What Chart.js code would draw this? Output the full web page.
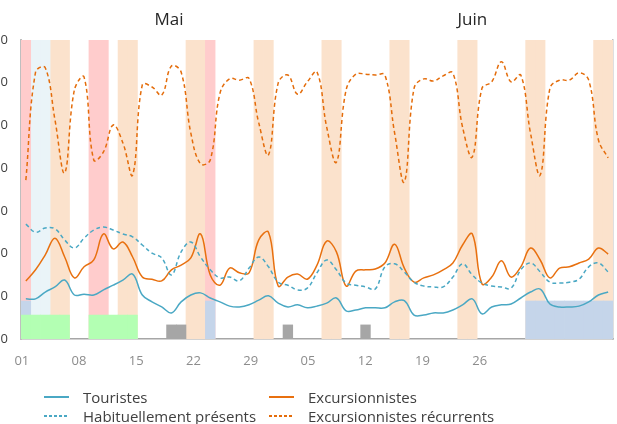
<!DOCTYPE html>
<html>
<head>
<meta charset="utf-8">
<script src="https://cdn.jsdelivr.net/npm/chart.js@4.4.1/dist/chart.umd.min.js"></script>
<style>
  html, body { margin: 0; padding: 0; background: #fff; overflow: hidden; }
  #wrap { position: relative; width: 617px; height: 424px; }
  #chartBox { position: absolute; left: 0; top: 0; width: 617px; height: 380px; }
  #legend { position: absolute; left: 0; top: 0; width: 617px; height: 424px; pointer-events: none;
            font-family: "Open Sans", "Noto Sans", sans-serif; font-size: 15px; color: #404040; }
  .item { position: absolute; height: 18px; line-height: 18px; white-space: nowrap; }
  .swatch { position: absolute; top: 8px; width: 25px; height: 2px; }
  .label { position: absolute; top: 0; }
</style>
</head>
<body>
<div id="wrap">
  <div id="chartBox"><canvas id="mobChart"></canvas></div>
  <div id="legend"></div>
</div>
<script>
// jours du 1er mai au 30 juin (index 0 = 01 mai)
const months = ['Mai', 'Juin'];
const monthLengths = [31, 30];
const monthCenters = [15.25, 46.5];

// libellés de l'axe bas
const xTickLabels = ['01', '08', '15', '22', '29', '05', '12', '19', '26'];
const xTickPos = [0, 7, 14, 21, 28, 35, 42, 49, 56];

const touristes = [
  940, 940, 1100, 1220, 1380, 1030, 1050, 1030, 1150, 1260,
  1380, 1520, 1030, 870, 750, 610, 870, 1030, 1080, 960,
  870, 770, 750, 800, 910, 1010, 840, 750, 800, 730,
  770, 840, 960, 660, 680, 730, 730, 730, 870, 900,
  560, 560, 610, 610, 680, 800, 940, 590, 750, 800,
  820, 960, 1100, 1170, 820, 750, 750, 770, 870, 1030,
  1100
];
const excursionnistes = [
  1360, 1620, 1970, 2360, 1920, 1430, 1690, 1850, 2460, 2110,
  2270, 1920, 1450, 1400, 1360, 1620, 1730, 1900, 2460, 1500,
  1260, 1660, 1550, 1550, 2320, 2500, 1240, 1450, 1520, 1400,
  1730, 2290, 2040, 1240, 1590, 1620, 1640, 1780, 2220, 1660,
  1330, 1430, 1500, 1620, 1780, 2200, 2460, 1290, 1450, 1830,
  1450, 1690, 2130, 1850, 1430, 1660, 1690, 1780, 1870, 2130,
  1990
];
const habituels = [
  2690, 2500, 2600, 2580, 2320, 2130, 2360, 2550, 2620, 2550,
  2460, 2390, 2200, 2010, 1900, 1500, 2040, 2270, 1920, 1620,
  1430, 1450, 1360, 1660, 1920, 1690, 1330, 1260, 1150, 1190,
  1550, 1850, 1620, 1310, 1260, 1220, 1170, 1690, 1760, 1570,
  1330, 1240, 1220, 1220, 1450, 1760, 1500, 1310, 1240, 1220,
  1190, 1620, 1780, 1570, 1330, 1310, 1330, 1400, 1690, 1780,
  1570
];
const recurrents = [
  3720, 6250, 6350, 5130, 3890, 5830, 6130, 4190, 4380, 5010,
  4590, 3840, 5950, 5900, 5710, 6390, 6250, 4820, 4100, 4190,
  5750, 6090, 6060, 6100, 5060, 4310, 5990, 6180, 5730, 6020,
  6250, 4960, 4140, 5830, 6200, 6200, 6180, 6180, 4820, 3680,
  5870, 6090, 6040, 6160, 6230, 4960, 4260, 5870, 6020, 6490,
  6020, 6180, 4820, 3840, 5870, 6060, 6060, 6230, 6060, 4660,
  4240
];

// bandes de fond (index de jour)
const weekendDays = [3, 4, 10, 11, 17, 18, 24, 25, 31, 32, 38, 39, 45, 46, 52, 53, 59, 60];
const holidayDays = [0, 7, 8, 19];
const bridgeDays = [1, 2];
const greenDays = [0, 1, 2, 3, 4, 7, 8, 9, 10, 11];
const grayDays = [15, 16, 27, 35];
const blueDays = [0, 19, 52, 53, 54, 55, 56, 57, 58, 59, 60];

const yMax = 7000;
const greenLevel = 560;
const grayLevel = 330;
const blueLevel = 890;

const days = [];
monthLengths.forEach((n, m) => {
  for (let d = 1; d <= n; d++) days.push(String(d).padStart(2, '0') + ' ' + months[m]);
});

function band(idx, level) {
  return days.map((_, i) => idx.includes(i) ? level : null);
}

function barSet(label, idx, level, color, order) {
  return {
    type: 'bar', label: label, data: band(idx, level),
    backgroundColor: color, borderWidth: 0, grouped: false,
    barPercentage: 1, categoryPercentage: 1, order: order
  };
}

const lineSeries = [
  { label: 'Touristes', data: touristes, color: '#4aa8c4', dash: [] },
  { label: 'Excursionnistes', data: excursionnistes, color: '#e8700f', dash: [] },
  { label: 'Habituellement présents', data: habituels, color: '#4aa8c4', dash: [4, 3] },
  { label: 'Excursionnistes récurrents', data: recurrents, color: '#e46c0a', dash: [4, 3] }
];

let mobChart;

function initChart() {
  const ctx = document.getElementById('mobChart').getContext('2d');
  const datasets = [
    barSet('week-end', weekendDays, yMax, '#fbe2cc', 12),
    barSet('férié', holidayDays, yMax, '#ffcccc', 11),
    barSet('pont', bridgeDays, yMax, '#eaf4f8', 11),
    barSet('bleu', blueDays, blueLevel, '#c5d5ea', 9),
    barSet('vert', greenDays, greenLevel, '#b3ffb3', 8),
    barSet('gris', grayDays, grayLevel, '#a6a6a6', 8)
  ];
  lineSeries.forEach((s, i) => {
    datasets.push({
      type: 'line', label: s.label, data: s.data,
      borderColor: s.color, borderWidth: 1.5, borderDash: s.dash,
      pointRadius: 0, tension: 0.4, fill: false, order: 4 - i
    });
  });

  mobChart = new Chart(ctx, {
    data: { labels: days, datasets: datasets },
    options: {
      responsive: true,
      maintainAspectRatio: false,
      animation: false,
      events: [],
      layout: { padding: 0 },
      plugins: { legend: { display: false }, tooltip: { enabled: false } },
      scales: {
        x: { type: 'category', display: false, offset: true },
        xl: {
          type: 'linear', position: 'bottom', min: -0.1, max: 72.3,
          grid: { display: false, drawTicks: false },
          border: { color: '#a6a6a6', width: 1.5 },
          afterBuildTicks: s => { s.ticks = xTickPos.map(v => ({ value: v })); },
          afterFit: s => { s.height = 41; },
          ticks: {
            padding: 14, color: '#8c8c8c', autoSkip: false,
            font: { family: '"Open Sans", sans-serif', size: 13 },
            callback: (v, i) => xTickLabels[i]
          }
        },
        xm: {
          type: 'linear', position: 'top', min: 0, max: 61,
          grid: { display: false, drawTicks: false },
          border: { display: false },
          afterBuildTicks: s => { s.ticks = monthCenters.map(v => ({ value: v })); },
          afterFit: s => { s.height = 40; },
          ticks: {
            padding: 10, color: '#262626', autoSkip: false,
            font: { family: '"Open Sans", sans-serif', size: 17 },
            callback: (v, i) => months[i]
          }
        },
        y: {
          min: 0, max: yMax,
          grid: { display: false, drawTicks: false },
          border: { color: '#bfbfbf', width: 2 },
          afterFit: s => { s.width = 21; },
          ticks: {
            stepSize: 1000, padding: 13, color: '#404040',
            font: { family: '"Open Sans", sans-serif', size: 13 },
            callback: v => String(v).replace(/\B(?=(\d{3})+$)/g, ' ')
          }
        },
        yr: {
          position: 'right', min: 0, max: yMax,
          grid: { display: false, drawTicks: false },
          border: { color: '#bfbfbf', width: 1.5 },
          afterFit: s => { s.width = 4; },
          ticks: { display: false }
        }
      }
    }
  });
}

function buildLegend() {
  const box = document.getElementById('legend');
  const spots = [
    { x: 44, y: 388 }, { x: 269, y: 388 },
    { x: 44, y: 407 }, { x: 269, y: 407 }
  ];
  lineSeries.forEach((s, i) => {
    const it = document.createElement('div');
    it.className = 'item';
    it.style.left = spots[i].x + 'px';
    it.style.top = spots[i].y + 'px';
    const sw = document.createElement('div');
    sw.className = 'swatch';
    if (s.dash.length) {
      sw.style.background = 'repeating-linear-gradient(to right, ' + s.color + ' 0 3px, transparent 3px 5px)';
      sw.style.height = '1.5px';
    } else {
      sw.style.background = s.color;
    }
    const lb = document.createElement('div');
    lb.className = 'label';
    lb.style.left = '39px';
    lb.textContent = s.label;
    it.appendChild(sw);
    it.appendChild(lb);
    box.appendChild(it);
  });
}

document.addEventListener('DOMContentLoaded', () => {
  initChart();
  buildLegend();
});
</script>
</body>
</html>
